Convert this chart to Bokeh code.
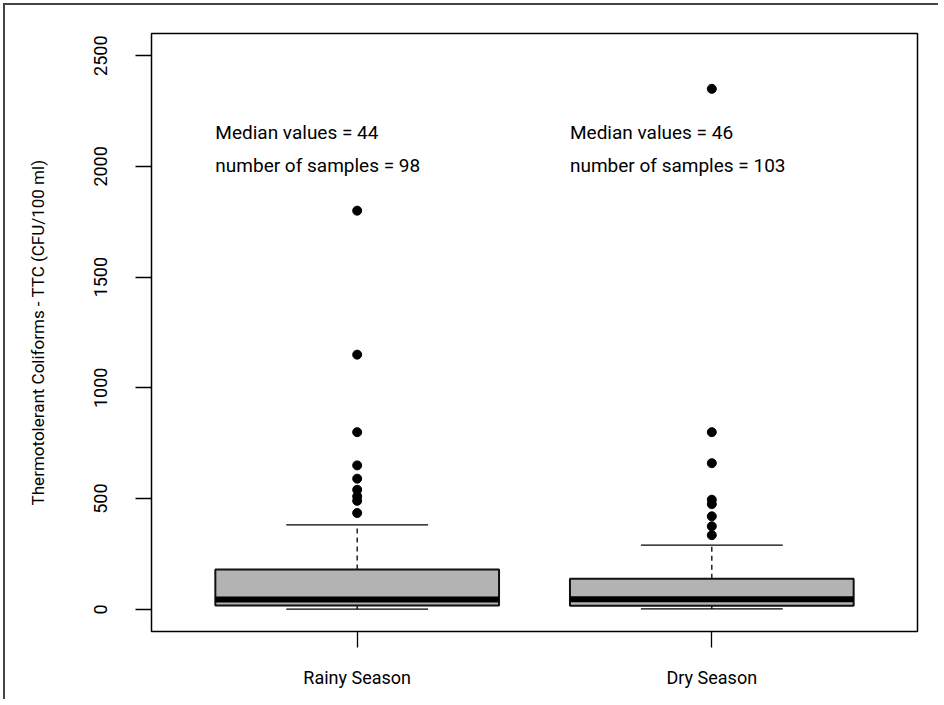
from bokeh.plotting import figure
from bokeh.models import FixedTicker, Range1d
from bokeh.core.properties import value
from bokeh.embed import file_html
from bokeh.resources import INLINE

# ---- data ----
seasons = ["Rainy Season", "Dry Season"]
positions = [1, 2]
lower_whisker = [1, 2]
q1 = [17, 16]
median = [44, 46]
q3 = [180, 138]
upper_whisker = [381, 290]
rainy_outliers = [1800, 1150, 800, 650, 590, 540, 510, 490, 435]
dry_outliers = [2350, 800, 660, 495, 475, 420, 375, 335]
sample_counts = [98, 103]
y_ticks = [0, 500, 1000, 1500, 2000, 2500]

FONT = "Roboto"

p = figure(width=935, height=696, output_backend="svg", toolbar_location=None,
           x_range=Range1d(0.42, 2.58), y_range=Range1d(-100, 2600),
           min_border_left=146, min_border_right=23, min_border_top=28,
           min_border_bottom=70)
p.styles = {"border-top": "2px solid #444", "border-left": "2px solid #444",
            "margin-left": "3px", "margin-top": "3px"}

p.xgrid.visible = False
p.ygrid.visible = False
p.outline_line_color = "black"
p.outline_line_width = 1.5
p.outline_line_alpha = 1

half_box = 0.4
half_cap = 0.2

# whiskers (dashed)
p.segment(x0=positions, x1=positions, y0=q3, y1=upper_whisker,
          line_color="black", line_width=1.3, line_dash="5 4")
p.segment(x0=positions, x1=positions, y0=lower_whisker, y1=q1,
          line_color="black", line_width=1.3, line_dash="5 4")
# caps
p.segment(x0=[x - half_cap for x in positions], x1=[x + half_cap for x in positions],
          y0=upper_whisker, y1=upper_whisker, line_color="black", line_width=1.3)
p.segment(x0=[x - half_cap for x in positions], x1=[x + half_cap for x in positions],
          y0=lower_whisker, y1=lower_whisker, line_color="black", line_width=1.3)
# boxes
p.vbar(x=positions, width=2 * half_box, bottom=q1, top=q3,
       fill_color="#b3b3b3", line_color="#111111", line_width=2)
# medians
p.segment(x0=[x - half_box for x in positions], x1=[x + half_box for x in positions],
          y0=median, y1=median, line_color="black", line_width=6, line_cap="butt")
# outliers
p.scatter(x=[1] * len(rainy_outliers), y=rainy_outliers, size=9, color="black")
p.scatter(x=[2] * len(dry_outliers), y=dry_outliers, size=9, color="black")

# annotations
txt_x = [x - 0.4 for x in positions]
p.text(x=txt_x, y=[2151, 2151],
       text=[f"Median values = {m}" for m in median],
       text_font=value(FONT), text_font_size="19px", text_baseline="alphabetic",
       text_align="left", text_color="black")
p.text(x=txt_x, y=[2003, 2003],
       text=[f"number of samples = {n}" for n in sample_counts],
       text_font=value(FONT), text_font_size="19px", text_baseline="alphabetic",
       text_align="left", text_color="black")

# axes
p.xaxis.ticker = FixedTicker(ticks=positions)
p.xaxis.major_label_overrides = {pos: s for pos, s in zip(positions, seasons)}
p.yaxis.ticker = FixedTicker(ticks=y_ticks)
p.yaxis.major_label_orientation = "vertical"
p.yaxis.axis_label = "Thermotolerant Coliforms - TTC (CFU/100 ml)"

for ax in (p.xaxis[0], p.yaxis[0]):
    ax.axis_line_color = None
    ax.major_tick_out = 16
    ax.major_tick_in = 0
    ax.major_tick_line_color = "black"
    ax.major_tick_line_width = 1.3
    ax.minor_tick_line_color = None
    ax.major_label_text_font = FONT
    ax.major_label_text_color = "black"

p.xaxis.major_label_text_font_size = "18px"
p.yaxis.major_label_text_font_size = "18px"
p.xaxis.major_label_standoff = 19
p.yaxis.major_label_standoff = 28
p.yaxis.axis_label_text_font = FONT
p.yaxis.axis_label_text_font_size = "17px"
p.yaxis.axis_label_text_font_style = "normal"
p.yaxis.axis_label_text_color = "black"
p.yaxis.axis_label_standoff = 44

open("out.html", "w").write(file_html(p, INLINE))
